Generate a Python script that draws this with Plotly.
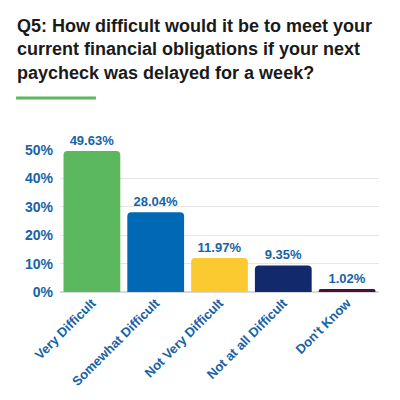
import plotly.graph_objects as go

categories = ["Very Difficult", "Somewhat Difficult", "Not Very Difficult", "Not at all Difficult", "Don't Know"]
values = [49.63, 28.04, 11.97, 9.35, 1.02]
value_labels = ["49.63%", "28.04%", "11.97%", "9.35%", "1.02%"]
bar_colors = ["#5cb85f", "#0068b5", "#fbc930", "#122a6b", "#4a0d3e"]
tick_vals = [0, 10, 20, 30, 40, 50]
tick_text = ["0%", "10%", "20%", "30%", "40%", "50%"]
title_text = "Q5: How difficult would it be to meet your<br>current financial obligations if your next<br>paycheck was delayed for a week?"

OFF = 8  # page body margin
W, H = 400 - OFF, 400 - OFF
# plot area in page pixels: x 60..379.5, y 149.5..292
L, R = 60 - OFF, 400 - 379.5
T, B = 149.5 - OFF, 400 - 292
pw, ph = W - L - R, H - T - B

def px_x(x):
    return (x - OFF - L) / pw

def px_y(y):
    return (H - B - (y - OFF)) / ph

blue = "#1663a6"
font_fam = "Liberation Sans, Arial, sans-serif"

fig = go.Figure(go.Bar(
    x=categories, y=values, marker=dict(color=bar_colors, line=dict(width=0)),
    text=value_labels, textposition="outside", cliponaxis=False,
    textfont=dict(family=font_fam, size=13, color=blue, weight=600),
    hoverinfo="skip",
))

fig.update_layout(
    width=W, height=H, margin=dict(l=L, r=R, t=T, b=B, autoexpand=False),
    paper_bgcolor="white", plot_bgcolor="white",
    bargap=0.11, barcornerradius=4, showlegend=False,
    font=dict(family=font_fam),
    xaxis=dict(tickangle=-45, tickfont=dict(family=font_fam, size=13, color=blue, weight=600),
               showgrid=False, showline=False, ticks=""),
    yaxis=dict(range=[0, 50], tickvals=tick_vals, ticktext=tick_text,
               tickfont=dict(family=font_fam, size=14, color=blue, weight=600),
               showgrid=True, gridcolor="#e6e6e6", gridwidth=1,
               zeroline=True, zerolinecolor="#d9d9d9", zerolinewidth=2, ticks="", ticklabelstandoff=6),
    annotations=[dict(text=title_text, xref="paper", yref="paper", x=px_x(15), y=px_y(13),
                      xanchor="left", yanchor="top", align="left", showarrow=False,
                      font=dict(family=font_fam, size=18, color="#1a1a1a", weight=600))],
    shapes=[dict(type="line", xref="paper", yref="paper", x0=px_x(16), x1=px_x(96),
                 y0=px_y(97.3), y1=px_y(97.3), line=dict(color="#5cb85f", width=3))],
)

fig.write_html("out.html")
